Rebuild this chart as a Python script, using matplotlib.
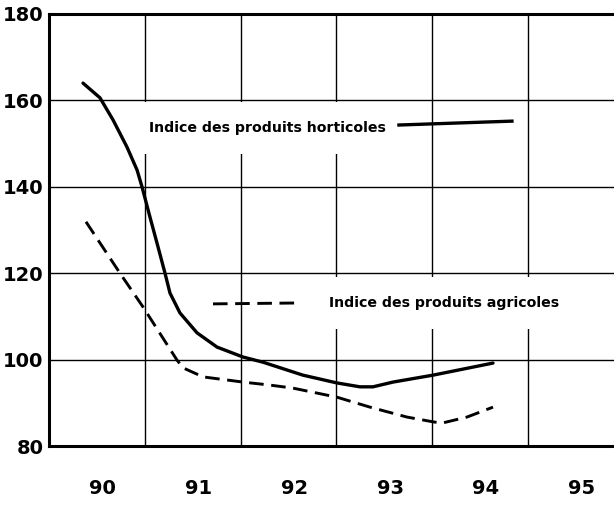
import matplotlib.pyplot as plt

# values; x in years (label 90 sits in the middle of the first cell)
years = ['90', '91', '92', '93', '94', '95']
year_pos = [90, 91, 92, 93, 94, 95]

horti_x = [89.855, 90.032, 90.168, 90.314, 90.419, 90.471, 90.554, 90.638,
           90.711, 90.763, 90.867, 91.045, 91.254, 91.525, 91.734, 92.151,
           92.506, 92.746, 92.882, 93.091, 93.508, 94.135]
horti_y = [164.0, 160.6, 155.5, 149.2, 143.9, 140.0, 133.0, 126.1,
           120.0, 115.4, 110.8, 106.2, 102.9, 100.6, 99.4, 96.4,
           94.6, 93.7, 93.7, 94.8, 96.4, 99.2]

agri_x = [89.886, 90.241, 90.481, 90.836, 90.899, 91.108, 91.525, 91.807,
          92.047, 92.506, 92.851, 93.237, 93.508, 93.602, 93.863, 94.135]
agri_y = [131.9, 120.0, 112.2, 99.9, 98.1, 96.0, 94.8, 94.1,
          93.4, 91.3, 89.0, 86.7, 85.6, 85.3, 86.7, 89.0]

labels = ['Indice des produits horticoles', 'Indice des produits agricoles']

plt.rcParams['font.family'] = ['DejaVu Sans']

fig = plt.figure(figsize=(6.14, 5.05), dpi=100)
ax = fig.add_axes([0.0798, 0.1168, 0.9202, 0.8555])

ax.plot(horti_x, horti_y, color='black', lw=2.4, solid_capstyle='round')
ax.plot(agri_x, agri_y, color='black', lw=2.1, dashes=(5, 2.6))

# legend is written straight into the grid, with white behind the text
ax.text(90.54, 153.6, '\n' + labels[0] + '\n', fontsize=10.2,
        fontweight='bold', va='center', ha='left', linespacing=0.95,
        bbox=dict(facecolor='white', edgecolor='none', pad=4))
ax.plot([93.153, 94.333], [154.3, 155.2], color='black', lw=2.4)

ax.text(92.42, 113.1, '\n' + labels[1] + '\n', fontsize=10.2,
        fontweight='bold', va='center', ha='left', linespacing=0.95,
        bbox=dict(facecolor='white', edgecolor='none', pad=4))
ax.plot([91.212, 92.068], [112.9, 113.1], color='black', lw=2.1,
        dashes=(5, 2.6))

ax.set_xlim(89.5, 95.398)
ax.set_ylim(80, 180)

ax.set_xticks([p + 0.06 for p in year_pos])
ax.set_xticklabels(years, fontsize=14, fontweight='bold')
ax.set_xticks([90.5, 91.5, 92.5, 93.5, 94.5], minor=True)
ax.set_yticks([80, 100, 120, 140, 160, 180])
ax.set_yticklabels(['80', '100', '120', '140', '160', '180'], fontsize=14,
                   fontweight='bold')
ax.tick_params(axis='both', which='both', length=0)
ax.tick_params(axis='x', pad=24)
ax.tick_params(axis='y', pad=4)

ax.grid(True, which='major', axis='y', color='black', lw=1.0)
ax.grid(True, which='minor', axis='x', color='black', lw=1.0)
ax.set_axisbelow(True)

for s in ['left', 'top', 'bottom']:
    ax.spines[s].set_linewidth(2.2)
ax.spines['right'].set_visible(False)

plt.savefig('out.png', dpi=100)
